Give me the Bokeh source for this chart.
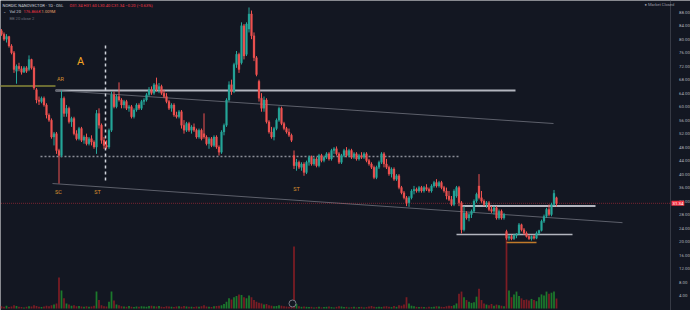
from bokeh.plotting import figure
from bokeh.models import Range1d, FixedTicker, Label, NumeralTickFormatter, ColumnDataSource, LinearAxis
from bokeh.embed import file_html
from bokeh.resources import INLINE

# ---------------- data ----------------
opens = [82.5, 81.5, 80.0, 80.8, 78.0, 76.0, 70.5, 72.0, 71.2, 70.2, 71.5, 71.0, 74.0, 71.5, 65.0, 62.0, 61.5, 62.5, 60.5, 57.5,
         56.0, 51.0, 52.0, 47.0, 45.5, 62.5, 58.0, 59.5, 55.5, 56.5, 52.0, 50.5, 53.5, 50.0, 51.0, 49.0, 50.5, 49.5, 48.0, 58.0,
         54.5, 50.0, 48.5, 48.0, 53.0, 63.5, 60.0, 63.0, 62.0, 60.5, 61.5, 59.5, 60.0, 57.0, 59.0, 60.5, 59.5, 61.5, 62.0, 63.5,
         65.0, 64.0, 66.5, 65.0, 66.0, 64.0, 63.0, 61.5, 59.5, 60.5, 57.5, 57.0, 58.5, 54.5, 53.0, 55.0, 53.0, 54.0, 53.0, 51.0,
         53.0, 52.0, 51.0, 49.0, 50.5, 48.5, 51.0, 48.0, 46.5, 52.5, 54.5, 62.0, 66.5, 64.5, 72.5, 75.5, 73.0, 84.0, 75.5, 83.0,
         87.5, 81.0, 74.5, 67.5, 62.5, 59.5, 62.0, 55.5, 52.5, 51.0, 53.5, 56.0, 59.5, 55.0, 53.5, 52.5, 51.5, 45.5, 42.5, 43.5,
         42.0, 43.0, 40.5, 43.5, 45.0, 43.0, 44.5, 42.5, 45.5, 44.0, 45.0, 46.0, 44.5, 47.0, 47.5, 46.0, 43.5, 45.5, 47.0, 45.5,
         47.0, 45.0, 46.0, 44.5, 45.5, 45.0, 46.0, 44.0, 43.0, 42.0, 39.0, 42.0, 43.5, 46.0, 43.0, 42.0, 40.0, 41.5, 38.5, 39.5,
         36.0, 34.5, 33.0, 31.5, 33.0, 35.0, 35.5, 35.0, 36.0, 35.0, 36.0, 35.5, 35.0, 36.5, 37.5, 36.5, 37.5, 36.0, 35.0, 33.5,
         32.5, 31.0, 33.5, 36.0, 31.5, 23.5, 28.5, 27.0, 28.0, 29.0, 32.0, 36.5, 33.0, 32.0, 31.0, 31.5, 29.5, 29.0, 30.0, 27.0,
         29.0, 27.0, 23.0, 21.0, 21.5, 20.8, 21.8, 22.3, 25.0, 23.5, 22.5, 21.5, 20.8, 21.5, 21.0, 22.5, 23.3, 26.0, 27.5, 29.5,
         28.0, 31.0, 33.0]
highs = [83.0, 82.0, 81.5, 81.0, 78.5, 76.5, 72.5, 73.0, 72.0, 72.0, 72.0, 75.2, 74.2, 72.0, 65.5, 63.0, 63.0, 63.0, 61.0, 58.0,
         56.5, 52.5, 52.5, 47.5, 64.8, 63.0, 60.5, 60.0, 57.0, 57.0, 53.0, 54.0, 54.0, 51.5, 52.0, 51.0, 51.5, 50.0, 59.0, 59.5,
         55.0, 51.0, 50.0, 53.5, 64.5, 64.5, 63.5, 67.2, 62.5, 62.0, 62.0, 60.5, 60.5, 59.5, 61.0, 61.0, 62.0, 62.5, 64.0, 65.8,
         66.0, 67.0, 68.6, 67.0, 66.5, 65.0, 64.0, 62.0, 61.0, 61.0, 58.5, 59.0, 59.0, 56.0, 55.5, 55.5, 54.5, 55.0, 53.5, 53.5,
         53.5, 58.0, 51.5, 51.0, 51.0, 51.5, 51.5, 48.5, 53.0, 55.0, 62.5, 67.5, 68.0, 73.0, 76.5, 76.0, 85.0, 84.5, 85.0, 89.4,
         88.5, 82.0, 75.0, 68.0, 64.0, 63.0, 62.5, 56.0, 54.0, 54.0, 56.5, 60.0, 60.0, 55.5, 54.0, 53.5, 52.0, 47.0, 44.5, 44.0,
         43.5, 43.5, 44.0, 45.5, 45.5, 45.0, 45.0, 46.0, 46.0, 45.5, 46.5, 46.5, 47.5, 48.0, 48.2, 46.5, 46.0, 47.5, 48.0, 47.5,
         47.5, 46.5, 46.5, 46.0, 46.5, 46.5, 46.5, 44.5, 43.5, 42.5, 42.5, 44.0, 46.5, 46.5, 44.5, 42.5, 42.0, 42.0, 40.0, 40.0,
         36.5, 35.0, 33.5, 33.5, 35.5, 36.5, 36.0, 36.5, 36.5, 36.5, 37.0, 36.0, 37.0, 38.0, 38.5, 38.0, 38.0, 36.5, 36.0, 35.0,
         33.5, 35.5, 36.5, 36.5, 32.0, 30.5, 29.0, 28.5, 29.5, 32.5, 34.5, 40.0, 35.0, 32.5, 32.0, 32.0, 30.5, 30.5, 30.5, 29.5,
         29.5, 28.5, 23.5, 22.0, 22.0, 22.3, 22.5, 25.5, 25.3, 24.0, 23.0, 22.0, 21.8, 22.0, 23.0, 23.5, 26.5, 28.0, 30.0, 31.0,
         31.5, 35.3, 33.3]
lows = [81.0, 79.5, 79.0, 77.5, 75.5, 70.0, 66.8, 70.5, 69.5, 70.0, 70.0, 70.5, 71.0, 65.0, 61.0, 60.5, 61.0, 60.0, 56.5, 55.5,
        50.5, 48.5, 46.0, 37.2, 45.0, 57.0, 57.0, 55.0, 54.0, 51.5, 50.0, 50.0, 49.5, 49.0, 48.5, 48.5, 48.5, 47.5, 46.0, 53.5,
        49.0, 47.5, 47.5, 47.5, 52.5, 59.5, 59.5, 61.5, 59.5, 59.5, 59.0, 58.5, 56.5, 56.5, 58.5, 59.0, 59.0, 60.5, 61.5, 63.0,
        63.5, 63.5, 64.5, 64.0, 63.5, 62.5, 61.0, 59.0, 58.5, 57.0, 56.5, 56.5, 53.5, 52.0, 52.5, 52.5, 52.0, 52.5, 50.5, 50.5,
        50.0, 50.5, 48.5, 47.5, 48.0, 48.0, 47.5, 45.5, 46.0, 51.5, 54.0, 61.5, 63.5, 64.0, 71.5, 70.0, 72.5, 74.0, 75.0, 82.0,
        80.0, 73.5, 69.0, 61.5, 58.5, 58.5, 55.0, 52.0, 50.5, 50.0, 53.0, 55.5, 54.5, 53.0, 52.0, 51.0, 49.5, 41.5, 41.0, 41.5,
        41.0, 39.5, 40.0, 42.5, 42.5, 42.5, 42.0, 42.0, 43.5, 43.5, 44.5, 44.0, 44.0, 46.0, 45.5, 43.0, 43.0, 45.0, 45.0, 45.0,
        44.5, 44.5, 44.0, 44.0, 44.5, 44.5, 43.5, 42.5, 41.5, 38.5, 38.5, 41.5, 43.0, 42.0, 41.5, 39.5, 39.0, 38.0, 38.0, 35.5,
        34.0, 32.5, 30.5, 30.3, 32.5, 34.0, 34.5, 34.5, 34.5, 34.5, 35.0, 34.5, 34.5, 36.0, 36.0, 36.0, 35.5, 34.5, 32.5, 32.0,
        30.5, 30.5, 33.0, 30.5, 22.4, 23.0, 26.5, 26.0, 27.0, 28.5, 31.5, 32.5, 31.5, 30.5, 30.0, 29.0, 28.5, 28.0, 26.5, 26.5,
        26.5, 26.5, 20.5, 20.3, 20.4, 20.5, 21.0, 22.0, 23.0, 22.0, 21.2, 20.5, 20.3, 20.6, 20.7, 22.0, 23.0, 25.5, 27.0, 27.5,
        27.5, 30.6, 30.4]
closes = [81.5, 80.0, 80.8, 78.0, 76.0, 71.0, 72.0, 71.2, 70.2, 71.5, 70.5, 74.0, 71.5, 65.5, 62.0, 61.5, 62.5, 60.5, 57.5, 56.0,
          51.0, 52.0, 47.0, 45.5, 62.5, 58.0, 59.5, 55.5, 56.5, 52.0, 50.5, 53.5, 50.0, 51.0, 49.0, 50.5, 49.5, 48.0, 58.0, 54.5,
          50.0, 48.5, 48.0, 53.0, 63.5, 60.0, 63.0, 62.0, 60.5, 61.5, 59.5, 60.0, 57.0, 59.0, 60.5, 59.5, 61.5, 62.0, 63.5, 65.0,
          64.0, 66.5, 65.0, 66.0, 64.0, 63.0, 61.5, 59.5, 60.5, 57.5, 57.0, 58.5, 54.5, 53.0, 55.0, 53.0, 54.0, 53.0, 51.0, 53.0,
          50.5, 51.0, 49.0, 50.5, 48.5, 51.0, 48.0, 46.5, 52.5, 54.5, 62.0, 66.5, 64.5, 72.5, 75.5, 71.0, 84.0, 75.0, 84.5, 87.5,
          81.0, 74.5, 69.5, 62.5, 59.5, 62.0, 55.5, 52.5, 51.0, 53.5, 56.0, 59.5, 55.0, 53.5, 52.5, 51.5, 50.0, 42.5, 43.5, 42.0,
          43.0, 40.5, 43.5, 45.0, 43.0, 44.5, 42.5, 45.5, 44.0, 45.0, 46.0, 44.5, 47.0, 47.5, 46.0, 43.5, 45.5, 47.0, 45.5, 47.0,
          45.0, 46.0, 44.5, 45.5, 45.0, 46.0, 44.0, 43.0, 42.0, 39.0, 42.0, 43.5, 46.0, 43.0, 42.0, 40.0, 41.5, 38.5, 39.5, 36.0,
          34.5, 33.0, 31.5, 33.0, 35.0, 35.5, 35.0, 36.0, 35.0, 36.0, 35.5, 35.0, 36.5, 37.5, 36.5, 37.5, 36.0, 35.0, 33.5, 32.5,
          31.0, 35.0, 36.0, 31.5, 23.5, 28.5, 27.0, 28.0, 29.0, 32.0, 34.0, 33.0, 32.0, 31.0, 31.5, 29.5, 29.0, 30.0, 27.0, 29.0,
          27.0, 28.0, 21.0, 21.5, 20.8, 21.8, 22.3, 25.0, 23.5, 22.5, 21.5, 20.8, 21.5, 21.0, 22.5, 23.3, 26.0, 27.5, 29.5, 28.0,
          31.0, 34.3, 31.34]
volumes_k = [40, 30, 50, 25, 35, 60, 45, 30, 25, 20, 30,
             40, 35, 60, 45, 30, 25, 35, 50, 40, 60, 70, 90,
             550, 320, 180, 90, 70, 50, 60, 40, 45, 35, 30, 40, 30, 35, 50,
             300, 150, 60, 40, 35, 120, 300, 140, 70, 60,
             40, 35, 30, 45, 30, 25, 35, 30, 40, 35, 30, 45, 50, 40, 35, 45, 30, 25, 40, 35, 30, 25, 35, 40, 30, 45, 35, 30,
             30, 25, 35, 30, 40, 60, 35, 30, 25, 40, 45, 50, 60, 80,
             120, 180, 160, 200, 220, 250, 240, 200, 180, 230, 200, 150,
             120, 100, 90, 70, 80, 60, 50, 40, 45, 60, 50, 40, 35, 30, 40,
             1100,
             80, 40, 30, 35, 30, 25, 30, 20, 25, 30, 20, 25, 30, 35, 25, 20, 30, 40, 35, 25, 30, 20, 25, 30, 20, 25, 30, 20, 25, 35, 45, 30, 25,
             30, 25, 35, 40, 30, 25, 45, 30, 60, 50, 70, 200, 90, 50, 40, 30, 25, 30, 25, 20, 30, 25, 30, 40, 35, 30, 25, 40, 50, 45, 60,
             90, 260, 300, 200, 150, 120, 100, 110, 210, 350, 150, 90, 70, 60, 80, 50, 70, 60, 50, 40,
             1330,
             320, 200, 250, 300, 220, 180, 150, 160, 140, 170, 150, 130, 200, 250, 230, 300, 260, 280, 300, 177]
price_ticks = [4.0, 8.0, 12.0, 16.0, 20.0, 24.0, 28.0, 32.0, 36.0, 40.0, 44.0, 48.0, 52.0, 56.0, 60.0, 64.0, 68.0, 72.0,
               76.0, 80.0, 84.0, 88.0]
last_price = 31.34

# ---------------- styling ----------------
BG = "#131722"
UP = "#26a69a"
DOWN = "#ef5350"
VUP = "#1c7a2c"
VDOWN = "#7c1d24"
ORANGE = "#d8902f"
FONT = "Roboto"
AXIS_X = 267.4   # data x where the price scale line sits (~ pixel 669)

n = min(len(opens), len(highs), len(lows), len(closes), len(volumes_k))
idx = list(range(n))
up = [closes[i] >= opens[i] for i in idx]
src = ColumnDataSource(dict(
    x=idx,
    o=opens[:n], h=highs[:n], l=lows[:n], c=closes[:n],
    top=[max(opens[i], closes[i]) for i in idx],
    bot=[min(opens[i], closes[i]) for i in idx],
    col=[UP if u else DOWN for u in up],
    vcol=[VUP if u else VDOWN for u in up],
    vol=volumes_k[:n],
))

# frame spans the whole canvas; price axis is drawn at a fixed x inside it
p = figure(width=690, height=310, output_backend="svg", toolbar_location=None,
           x_range=Range1d(-0.4, 275.6), y_range=Range1d(-0.44, 91.47),
           min_border=0, background_fill_color=BG, border_fill_color=BG,
           outline_line_color=None, y_axis_location=None, x_axis_location=None)
p.xgrid.visible = False
p.ygrid.visible = False

ax = LinearAxis(fixed_location=AXIS_X)
ax.ticker = FixedTicker(ticks=price_ticks)
ax.formatter = NumeralTickFormatter(format="0.00")
ax.major_tick_line_color = None
ax.minor_tick_line_color = None
ax.axis_line_color = "#363a45"
ax.major_label_text_color = "#b2b5be"
ax.major_label_text_font_size = "4.3px"
ax.major_label_text_font = FONT
ax.major_label_standoff = 3
p.add_layout(ax, "right")

# volume (overlay)
p.extra_y_ranges = {"vol": Range1d(-35, 5452)}
p.vbar(x="x", width=0.7, top="vol", bottom=0, source=src, fill_color="vcol",
       line_color=None, y_range_name="vol")

# annotations: lines
p.line([-1, 21.6], [66.1, 66.1], line_color="#8a8a3a", line_width=1.5)
p.line([21.6, 205.6], [64.8, 64.8], line_color="#b2b5be", line_width=2)
p.line([21.6, 220.8], [64.8, 55.0], line_color="#5d606b", line_width=1)
p.line([20.4, 248.4], [37.2, 25.6], line_color="#5d606b", line_width=1)
p.line([15.6, 182.8], [45.2, 45.2], line_color="#8a8d96", line_width=1.5, line_dash="2 2")
p.line([41.6, 41.6], [78.1, 37.2], line_color="#d1d4dc", line_width=1.5, line_dash="3 3")
p.line([184.0, 237.6], [30.55, 30.55], line_color="#b2b5be", line_width=2)
p.line([182.0, 228.4], [22.1, 22.1], line_color="#b2b5be", line_width=1.5)
p.line([202.0, 214.0], [19.7, 19.7], line_color="#c07a2a", line_width=1.5)
p.line([-1, AXIS_X], [last_price, last_price], line_color="#f23645", line_alpha=0.45,
       line_dash="1 1", line_width=1)

# candles
p.segment(x0="x", y0="h", x1="x", y1="l", source=src, line_color="col", line_width=1)
p.vbar(x="x", width=0.75, top="top", bottom="bot", source=src, fill_color="col", line_color="col",
       line_width=0.3)

# event marker
p.scatter(x=[116.4], y=[1.64], size=7, marker="circle", fill_color=BG, line_color="#787b86", line_width=1)

# text labels on chart
def lab(x, y, text, size, color, **kw):
    opts = dict(x=x, y=y, text=text, text_font_size=size, text_color=color, text_font=FONT,
                text_align=kw.get("align", "center"), text_baseline="middle",
                x_units=kw.get("xu", "data"), y_units=kw.get("yu", "data"),
                background_fill_color=kw.get("bg", None), level=kw.get("level", "annotation"))
    if kw.get("bg") is not None:
        opts["padding"] = (1, 1)
    lbl = Label(**opts)
    p.add_layout(lbl)
    return lbl

lab(31.6, 73.4, "A", "11px", "#f5a623")
lab(23.6, 68.3, "AR", "5.5px", ORANGE)
lab(22.8, 34.8, "SC", "5.5px", ORANGE)
lab(38.4, 34.8, "ST", "5.5px", ORANGE)
lab(118.0, 35.7, "ST", "5.5px", ORANGE)

# header texts (screen coordinates, y from bottom)
H = 310
HS = "4.1px"
lab(2, H - 5, "NORDIC NANOVECTOR · 1D · OSL", HS, "#d1d4dc", align="left", xu="screen", yu="screen")
lab(69, H - 5, "O31.34 H31.60 L30.40 C31.34 −0.20 (−0.63%)", HS, "#f23645", align="left", xu="screen", yu="screen")
lab(2, H - 11, "⌄", HS, "#b2b5be", align="left", xu="screen", yu="screen")
lab(9, H - 11, "Vol 20", HS, "#d1d4dc", align="left", xu="screen", yu="screen")
lab(23, H - 11, "176.866K", HS, "#f23645", align="left", xu="screen", yu="screen")
lab(41, H - 11, "1.009M", HS, "#e6a06a", align="left", xu="screen", yu="screen")
lab(9, H - 18, "BB 20 close 2", HS, "#6a6d78", align="left", xu="screen", yu="screen")
lab(644, H - 4, "● Market Closed", "4.1px", "#9598a1", align="left", xu="screen", yu="screen")
lab(671, H - 202.8, "31.34", "4.3px", "#ffffff", align="left", xu="screen", yu="screen", bg="#f23645", level="overlay")

open("out.html", "w").write(file_html(p, INLINE))
